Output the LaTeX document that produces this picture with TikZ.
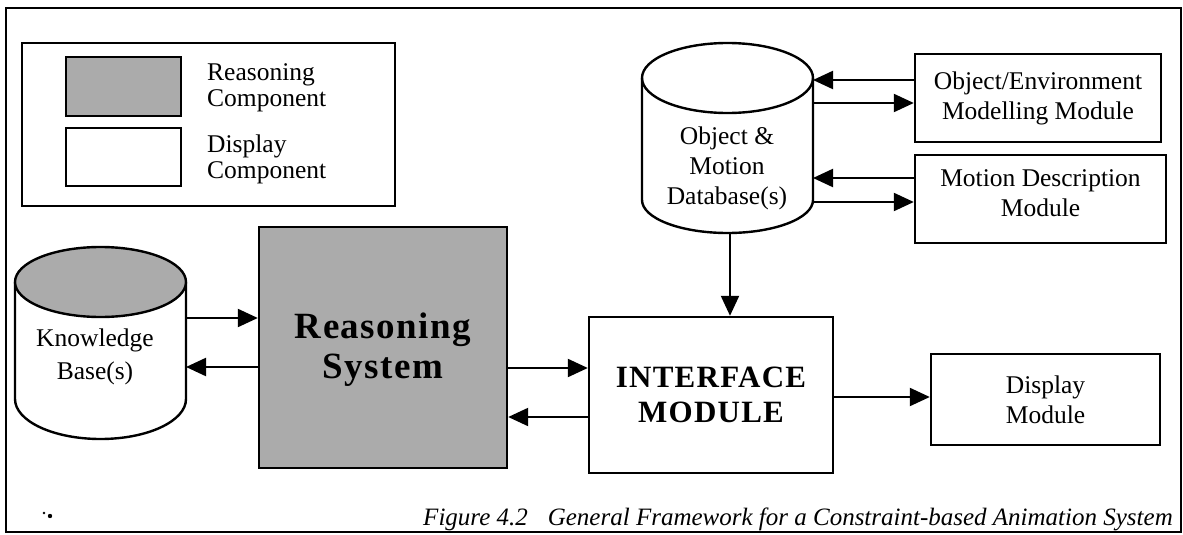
\documentclass[tikz,border=0pt]{standalone}
\usepackage{fontspec}
\setmainfont{Liberation Serif}
\newfontfamily\spacedserif[LetterSpace=4]{Liberation Serif}
\usetikzlibrary{arrows.meta}
\definecolor{dotgray}{gray}{0.67}

\begin{document}
\begin{tikzpicture}[x=1pt,y=-1pt,
  box/.style={draw, line width=2.4pt, inner sep=0pt, fill=white},
  shaded/.style={box, fill=dotgray},
  label/.style={align=center, inner sep=0pt, font=\fontsize{25.5}{30}\selectfont},
  arr/.style={line width=2.2pt, -{Triangle[length=20pt,width=18pt]}},
  cyl/.style={line width=2.4pt}]
\useasboundingbox (0,0) rectangle (1183,535);

% outer frame
\draw[line width=2pt] (6,8) rectangle (1181,532);

% legend
\node[draw, line width=2.2pt, minimum width=373pt, minimum height=163pt] (legend) at (208.5,124.5) {};
\node[shaded, minimum width=115pt, minimum height=59pt] (legR) at (123.5,86.5) {};
\node[box, minimum width=115pt, minimum height=58pt] (legD) at (123.5,157) {};
\node[anchor=west, align=left, inner sep=0pt, font=\fontsize{25.5}{26}\selectfont] (legRtxt) at (207,88) {Reasoning\\Component};
\node[anchor=west, align=left, inner sep=0pt, font=\fontsize{25.5}{26}\selectfont] (legDtxt) at (207,159) {Display\\Component};

% knowledge base cylinder
\filldraw[cyl, fill=white] (15,282) -- (15,399) arc[start angle=180, end angle=0, x radius=85.5, y radius=40] -- (186,282);
\filldraw[cyl, fill=dotgray] (100.5,282) ellipse [x radius=85.5, y radius=35];
\coordinate (kbE) at (186,282);
\node[label, font=\fontsize{25.5}{33}\selectfont] (kbtxt) at (95,357) {Knowledge\\Base(s)};

% object and motion database cylinder
\filldraw[cyl, fill=white] (642,78) -- (642,200) arc[start angle=180, end angle=0, x radius=85.5, y radius=33] -- (813,78);
\draw[cyl] (727.5,78) ellipse [x radius=85.5, y radius=35];
\coordinate (dbE) at (813,78);
\coordinate (dbS) at (730,233);
\node[label] (dbtxt) at (727,168) {Object \&\\Motion\\Database(s)};

% main blocks
\node[shaded, minimum width=248pt, minimum height=241pt] (rs) at (383,347.5) {};
\node[inner sep=0pt, align=center, font=\spacedserif\bfseries\fontsize{37}{40}\selectfont] (rstxt) at (383,350) {Reasoning\\System};
\node[box, minimum width=244pt, minimum height=156pt, align=center, font=\spacedserif\bfseries\fontsize{31}{35}\selectfont] (im) at (711,395) {INTERFACE\\MODULE};
\node[box, minimum width=229pt, minimum height=91pt, label] (disp) at (1045.5,399.5) {Display\\Module};
\node[box, minimum width=246pt, minimum height=88pt, label] (oe) at (1038,98) {Object/Environment\\Modelling Module};
\node[box, minimum width=251pt, minimum height=88pt] (md) at (1040.5,199) {};
\node[label] (mdtxt) at (1040.5,193) {Motion Description\\Module};

% rows of the connectors
\coordinate (r318) at (0,318);
\coordinate (r367) at (0,367);
\coordinate (r368) at (0,368);
\coordinate (r417) at (0,417);
\coordinate (r397) at (0,397);
\coordinate (r80) at (0,80);
\coordinate (r103) at (0,103);
\coordinate (r178) at (0,178);
\coordinate (r202) at (0,202);

% connectors
\draw[arr] (kbE |- r318) -- (rs.west |- r318);
\draw[arr] (rs.west |- r367) -- (kbE |- r367);
\draw[arr] (rs.east |- r368) -- (im.west |- r368);
\draw[arr] (im.west |- r417) -- (rs.east |- r417);
\draw[arr] (im.east |- r397) -- (disp.west |- r397);
\draw[arr] (dbS) -- (im.north -| dbS);
\draw[arr] (oe.west |- r80) -- (dbE |- r80);
\draw[arr] (dbE |- r103) -- (oe.west |- r103);
\draw[arr] (md.west |- r178) -- (dbE |- r178);
\draw[arr] (dbE |- r202) -- (md.west |- r202);

% small mark in the lower left corner
\fill (44,513) circle (1.4);
\fill (50,516) circle (2.2);

% caption
\node[anchor=base east, inner sep=0pt, font=\itshape\fontsize{25}{30}\selectfont] (caption) at (1173,525)
  {Figure 4.2\hspace{20pt}General Framework for a Constraint-based Animation System};
\end{tikzpicture}
\end{document}
